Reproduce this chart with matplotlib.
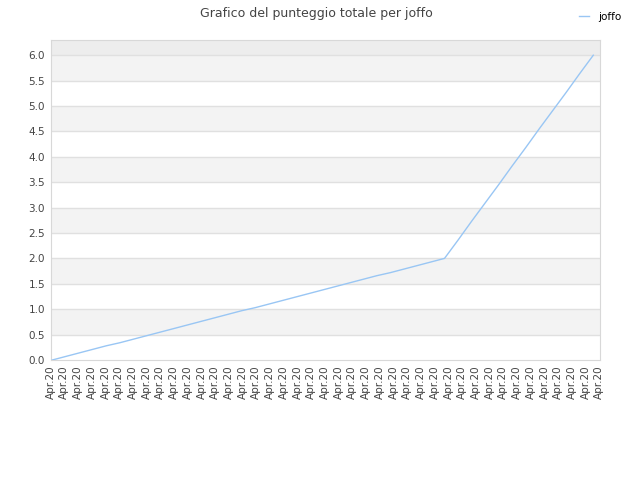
import matplotlib
matplotlib.use('Agg')
import matplotlib.pyplot as plt

# punteggio totale per giornata
labels = ['Apr.20'] * 41
scores = [0.00, 0.07, 0.14, 0.21, 0.28, 0.34, 0.41, 0.48, 0.55, 0.62,
          0.69, 0.76, 0.83, 0.90, 0.97, 1.03, 1.10, 1.17, 1.24, 1.31,
          1.38, 1.45, 1.52, 1.59, 1.66, 1.72, 1.79, 1.86, 1.93, 2.00,
          2.36, 2.73, 3.09, 3.45, 3.82, 4.18, 4.55, 4.91, 5.27, 5.64,
          6.00]
yticks = [0.0, 0.5, 1.0, 1.5, 2.0, 2.5, 3.0, 3.5, 4.0, 4.5, 5.0, 5.5, 6.0]
series_name = 'joffo'
title = 'Grafico del punteggio totale per joffo'

fig = plt.figure(figsize=(6.4, 4.8), dpi=100)
ax = fig.add_axes([0.079, 0.25, 0.859, 0.6667])

# bande alternate
ax.axhspan(6.0, 6.3, color='#ededed', lw=0, zorder=0)
for i in range(len(yticks) - 1):
    if i % 2 == 1:
        ax.axhspan(yticks[i], yticks[i + 1], color='#f3f3f3', lw=0, zorder=0)
for y in yticks[1:]:
    ax.axhline(y, color='#e0e0e0', lw=1, zorder=1)

x = list(range(len(scores)))
ax.plot(x, scores, color='#99c6f4', lw=1, label=series_name, zorder=3)

ax.set_xlim(-0.074, 40.52)
ax.set_ylim(0, 6.3)
# le etichette coprono tutta la larghezza del grafico
tick_pos = [-0.126 + i * 1.0144 for i in range(len(labels))]
ax.set_xticks(tick_pos)
ax.set_xticklabels(labels, rotation=90, fontsize=7.5, color='#444444')
ax.set_yticks(yticks)
ax.set_yticklabels(['%.1f' % v for v in yticks], fontsize=7.5, color='#444444')
ax.tick_params(length=0, pad=4)
for s in ax.spines.values():
    s.set_color('#d8d8d8')

fig.text(0.495, 0.972, title, ha='center', va='center', fontsize=9, color='#444444')
fig.legend(loc='upper right', bbox_to_anchor=(0.985, 0.995), frameon=False,
           fontsize=7.5, handlelength=1.0, handletextpad=0.8)

fig.savefig('out.png', dpi=100)
